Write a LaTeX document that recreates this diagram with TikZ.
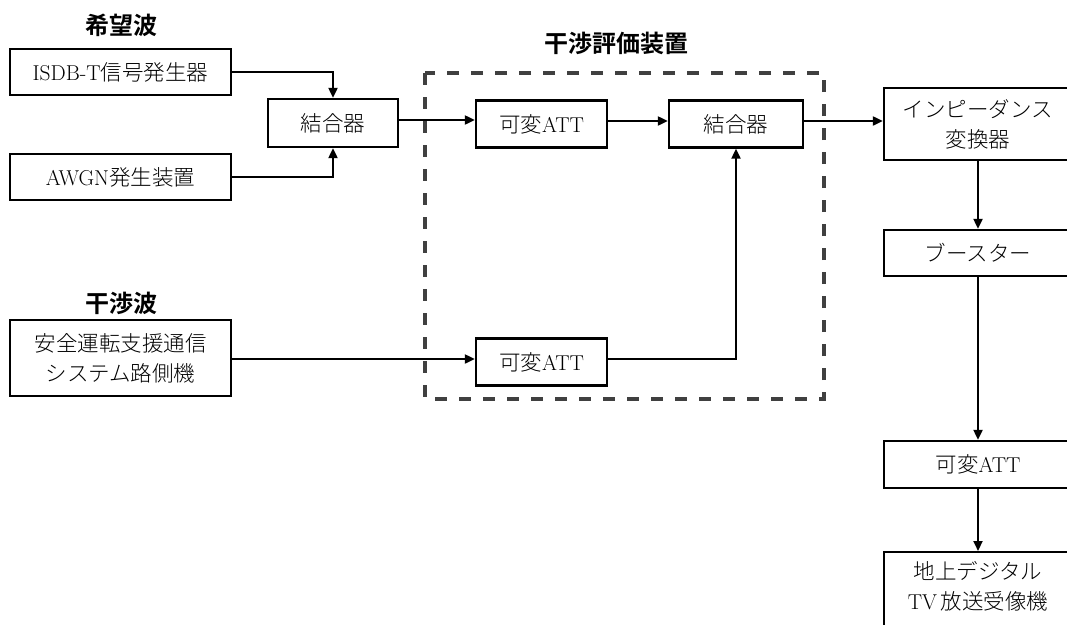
\documentclass[tikz,border=0pt]{standalone}
\usepackage{fontspec}
\newfontfamily\jp{Noto Sans CJK JP}[UprightFont=* Light,BoldFont=* Bold]
\usetikzlibrary{arrows.meta}
\begin{document}
\begin{tikzpicture}[x=1pt,y=-1pt,
  box/.style={draw,line width=2.3pt,inner sep=0pt,align=center,
    font=\fontsize{21.5}{30}\selectfont},
  arr/.style={line width=2pt,-{Triangle[length=10pt,width=9pt]}},
  dashbox/.style={draw=black!75,line width=3.5pt,dash pattern=on 12pt off 12pt},
  title/.style={font=\jp\bfseries\fontsize{24}{28}\selectfont}]
\useasboundingbox (0,0) rectangle (1067,624);
% titles
\node[title] (t1) at (121,25) {希望波};
\node[title] (t2) at (616,43) {干渉評価装置};
\node[title] (t3) at (121,303) {干渉波};
% dashed frame
\draw[dashbox] (425,73) rectangle (824,399);
% left column
\node[box,minimum width=221pt,minimum height=46pt] (isdb) at (120.5,72) {ISDB-T{\jp 信号発生器}};
\node[box,minimum width=221pt,minimum height=46pt] (awgn) at (120.5,177) {AWGN{\jp 発生装置}};
\node[box,minimum width=221pt,minimum height=76pt] (interf) at (120.5,358) {{\jp 安全運転支援通信}\\{\jp システム路側機}};
% combiner 1
\node[box,minimum width=130pt,minimum height=48pt] (comb1) at (333,123) {\jp 結合器};
% inside frame
\node[box,minimum width=131pt,minimum height=47pt] (att1) at (541.5,124) {{\jp 可変}ATT};
\node[box,minimum width=134pt,minimum height=47pt] (comb2) at (736,124) {\jp 結合器};
\node[box,minimum width=131pt,minimum height=47pt] (att2) at (541.5,362) {{\jp 可変}ATT};
% right column
\node[box,minimum width=188pt,minimum height=72pt] (imp) at (978,124) {{\jp インピーダンス}\\{\jp 変換器}};
\node[box,minimum width=188pt,minimum height=46pt] (boost) at (978,253) {\jp ブースター};
\node[box,minimum width=188pt,minimum height=47pt] (att3) at (978,464.5) {{\jp 可変}ATT};
\node[box,minimum width=188pt,inner ysep=9pt,text depth=60pt,anchor=north] (tv) at (978,551) {{\jp 地上デジタル}\\TV\,{\jp 放送受像機}};
% connectors
\draw[arr] (isdb.east) -| (comb1.north);
\draw[arr] (awgn.east) -| (comb1.south);
\draw[arr] ([yshift=3pt]comb1.east) -- ([yshift=3pt]comb1.east -| att1.west);
\draw[arr] ([yshift=3pt]att1.east) -- ([yshift=3pt]comb2.west);
\draw[arr] ([yshift=3pt]comb2.east) -- ([yshift=3pt]comb2.east -| imp.west);
\draw[arr] ([yshift=-1pt]interf.east) -- ([yshift=-1pt]interf.east -| att2.west);
\draw[arr] ([yshift=3pt]att2.east) -| (comb2.south);
\draw[arr] (imp.south) -- (boost.north);
\draw[arr] (boost.south) -- (att3.north);
\draw[arr] (att3.south) -- (tv.north);
\end{tikzpicture}
\end{document}
